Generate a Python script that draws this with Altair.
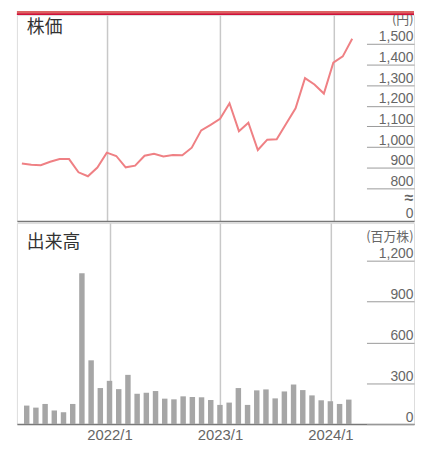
import json
import altair as alt
import pandas as pd

# ---- data -------------------------------------------------------------
months = [
    "2021/4", "2021/5", "2021/6", "2021/7", "2021/8", "2021/9", "2021/10", "2021/11", "2021/12",
    "2022/1", "2022/2", "2022/3", "2022/4", "2022/5", "2022/6", "2022/7", "2022/8", "2022/9",
    "2022/10", "2022/11", "2022/12", "2023/1", "2023/2", "2023/3", "2023/4", "2023/5", "2023/6",
    "2023/7", "2023/8", "2023/9", "2023/10", "2023/11", "2023/12", "2024/1", "2024/2", "2024/3",
]
price = [921, 915, 912, 929, 942, 942, 878, 859, 901, 973, 957, 902, 910, 958, 968, 955, 962, 960,
         997, 1081, 1108, 1137, 1212, 1077, 1118, 986, 1036, 1038, 1113, 1188, 1334, 1303, 1259,
         1409, 1439, 1524]
volume = [136, 121, 148, 100, 87, 148, 1110, 469, 265, 318, 257, 362, 223, 231, 243, 187, 182, 204,
          199, 197, 177, 141, 158, 265, 141, 248, 255, 189, 240, 291, 250, 211, 175, 168, 148, 180]

price_ticks = [800, 900, 1000, 1100, 1200, 1300, 1400, 1500]
price_break_zero = 645      # where the "0" of the broken axis sits
price_break_mark = 721      # where the "≈" sits
volume_ticks = [0, 300, 600, 900, 1200]
grid_months = ["2022/1", "2023/1", "2024/1"]

df = pd.DataFrame({"idx": list(range(len(months))), "month": months,
                   "price": price, "volume": volume})
grid_idx = [months.index(m) for m in grid_months]
one = pd.DataFrame({"a": [0]})

# ---- styling ----------------------------------------------------------
W = 401
H_TOP = 208
H_BOT = 203
AX = 48                      # length of the right-hand tick segments
LABEL_FONT = "Liberation Sans"
JP_FONT = "Noto Sans CJK JP"
AXIS_GRAY = "#666666"
TICK_GRAY = "#9a9a9a"
GRID_GRAY = "#c8c8c8"

xscale = alt.Scale(domain=[-0.525, 41.55], nice=False, zero=False)
label_js = json.dumps(months, ensure_ascii=False)
is_break = "datum.value > 680 && datum.value < 780"

# ---- top panel: price --------------------------------------------------
band = alt.Chart(one).mark_rect(color="#dc6262").encode(
    x=alt.value(0), x2=alt.value(W), y=alt.value(-4), y2=alt.value(0))
band_line = alt.Chart(one).mark_rule(color="#d0103a", strokeWidth=1.5).encode(
    x=alt.value(0), x2=alt.value(W), y=alt.value(-0.75))

price_axis = alt.Axis(
    orient="right", offset=-AX, values=price_ticks + [price_break_zero, price_break_mark],
    domain=False, grid=False, tickSize=AX, tickColor=TICK_GRAY, tickWidth=1,
    tickOpacity={"condition": {"test": "datum.value < 780", "value": 0}, "value": 1},
    labelAlign="right", labelPadding=-1, labelBaseline="middle", labelOffset=-7,
    labelExpr="datum.value < 680 ? '0' : datum.value < 780 ? '≈' : format(datum.value, ',')",
    labelFontSize={"condition": {"test": is_break, "value": 16}, "value": 14},
    labelFontWeight={"condition": {"test": is_break, "value": "bold"}, "value": "normal"},
    labelColor=AXIS_GRAY, labelFont=LABEL_FONT, labelOverlap=False,
    title="(円)", titleAngle=0, titleAlign="right", titleBaseline="middle",
    titleX=AX - 1, titleY=5, titleFontSize=13, titleFontWeight="normal",
    titleColor=AXIS_GRAY, titleFont=JP_FONT,
)

price_line = alt.Chart(df).mark_line(color="#ef8084", strokeWidth=2).encode(
    x=alt.X("idx:Q", scale=xscale,
            axis=alt.Axis(values=grid_idx, grid=True, gridColor=GRID_GRAY, gridWidth=1.5,
                          labels=False, ticks=False, domain=True, domainColor="#777777",
                          domainWidth=1.5, title=None)),
    y=alt.Y("price:Q", scale=alt.Scale(domain=[642, 1639], nice=False, zero=False),
            axis=price_axis),
)

price_title = alt.Chart(one).mark_text(
    text="株価", align="left", baseline="middle", fontSize=18, font=JP_FONT, color="#333333"
).encode(x=alt.value(10), y=alt.value(13))

top = alt.layer(band, band_line, price_line, price_title).properties(width=W, height=H_TOP)

# ---- bottom panel: volume ---------------------------------------------
volume_axis = alt.Axis(
    orient="right", offset=-AX, values=volume_ticks,
    domain=False, grid=False, tickSize=AX, tickColor=TICK_GRAY, tickWidth=1,
    labelAlign="right", labelPadding=-1, labelBaseline="middle", labelOffset=-7,
    labelExpr="format(datum.value, ',')", labelFontSize=14,
    labelColor=AXIS_GRAY, labelFont=LABEL_FONT, labelOverlap=False,
    title="(百万株)", titleAngle=0, titleAlign="right", titleBaseline="middle",
    titleX=AX - 1, titleY=14, titleFontSize=13, titleFontWeight="normal",
    titleColor=AXIS_GRAY, titleFont=JP_FONT,
)

bars = alt.Chart(df).mark_bar(color="#a6a6a6", size=5.5).encode(
    x=alt.X("idx:Q", scale=xscale,
            axis=alt.Axis(values=grid_idx, grid=True, gridColor=GRID_GRAY, gridWidth=1.5,
                          labelExpr=f"{label_js}[datum.value]", labelFontSize=15,
                          labelColor=AXIS_GRAY, labelFont=LABEL_FONT, labelPadding=4,
                          ticks=False, domain=True, domainColor="#777777", domainWidth=1.5,
                          labelFlush=False, title=None)),
    y=alt.Y("volume:Q", scale=alt.Scale(domain=[0, 1479], nice=False), axis=volume_axis),
)

volume_title = alt.Chart(one).mark_text(
    text="出来高", align="left", baseline="middle", fontSize=18, font=JP_FONT, color="#333333"
).encode(x=alt.value(10), y=alt.value(20))

bottom = alt.layer(bars, volume_title).properties(width=W, height=H_BOT)

chart = alt.vconcat(top, bottom, spacing=0).properties(
    padding={"left": 7, "top": 0, "right": 0, "bottom": 0}
).configure_view(stroke=None).configure(background="white")

chart.save("out.html", embed_options={"renderer": "svg", "actions": False})
